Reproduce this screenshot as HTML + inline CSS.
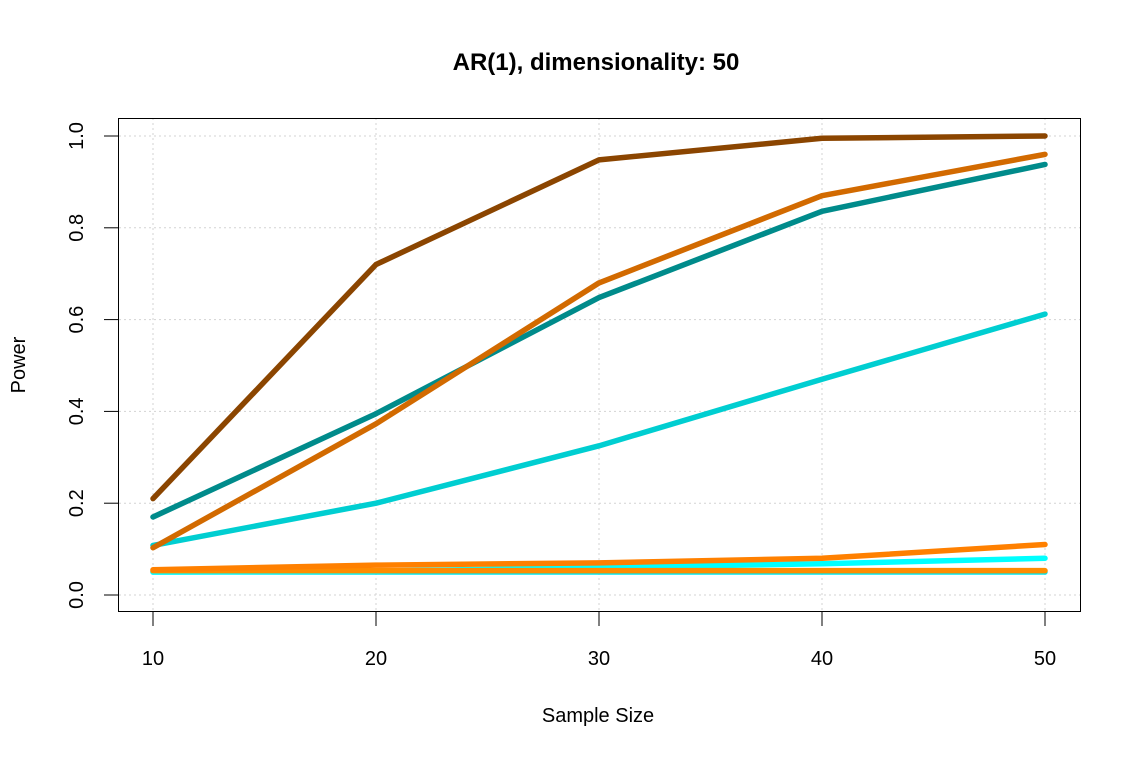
<!DOCTYPE html>
<html><head><meta charset="utf-8"><style>body{margin:0;background:#fff}svg{display:block}text{font-family:"Liberation Sans",sans-serif}</style></head>
<body>
<svg id="c" width="1141" height="759"></svg>
<script>
const categories=[10,20,30,40,50];
const yTicks=[0,0.2,0.4,0.6,0.8,1.0];
const yTickLabels=["0.0","0.2","0.4","0.6","0.8","1.0"];
const sBrown=[0.21,0.72,0.948,0.995,1.0];
const sTeal=[0.17,0.395,0.648,0.836,0.938];
const sDarkOrange=[0.103,0.373,0.68,0.87,0.96];
const sTurq=[0.108,0.20,0.325,0.47,0.612];
const sCyanFlat=[0.05,0.05,0.05,0.05,0.05];
const sCyan=[0.05,0.052,0.06,0.068,0.08];
const sOrange=[0.055,0.065,0.07,0.08,0.11];
const sOrangeFlat=[0.053,0.053,0.053,0.053,0.053];
const series=[[sCyanFlat,"#00e5ee","cyan-flat"],[sCyan,"#00ffff","cyan"],[sOrangeFlat,"#ff8c00","orange-flat"],[sOrange,"#ff8000","orange"],[sTurq,"#00ced1","turquoise"],[sTeal,"#008b8b","teal"],[sDarkOrange,"#d26a00","dark-orange"],[sBrown,"#8b4500","brown"]];
const X=v=>153+(v-10)*(1045-153)/40, Y=v=>595-v*459;
const svg=document.getElementById('c');const NS="http://www.w3.org/2000/svg";
function mk(t,a,p){const e=document.createElementNS(NS,t);for(const k in a)e.setAttribute(k,a[k]);(p||svg).appendChild(e);return e;}
categories.forEach(c=>{const l=mk('line',{x1:X(c),x2:X(c),y1:118,y2:612,stroke:'#d3d3d3','stroke-dasharray':'2,3'});


const t=mk('text',{x:X(c),y:665,'text-anchor':'middle','font-size':20});t.textContent=c;


const k=mk('line',{x1:X(c),x2:X(c),y1:612,y2:626,stroke:'#000'});

});
yTicks.forEach((v,i)=>{const l=mk('line',{x1:119,x2:1081,y1:Y(v),y2:Y(v),stroke:'#d3d3d3','stroke-dasharray':'2,3'});


const k=mk('line',{x1:104,x2:119,y1:Y(v),y2:Y(v),stroke:'#000'});


const t=mk('text',{x:0,y:0,'text-anchor':'middle','font-size':20,transform:`translate(83,${Y(v)}) rotate(-90)`});t.textContent=yTickLabels[i];

});
series.forEach(s=>{const p=mk('polyline',{points:s[0].map((v,i)=>X(categories[i])+','+Y(v)).join(' '),fill:'none',stroke:s[1],'stroke-width':5.5,'stroke-linejoin':'round','stroke-linecap':'round'});

});
const b=mk('rect',{x:118.5,y:118.5,width:962,height:493,fill:'none',stroke:'#000'});


const tt=mk('text',{x:596,y:70,'text-anchor':'middle','font-size':24,'font-weight':'bold'});tt.textContent='AR(1), dimensionality: 50';


const xt=mk('text',{x:598,y:722,'text-anchor':'middle','font-size':20});xt.textContent='Sample Size';


const yt=mk('text',{x:0,y:0,'text-anchor':'middle','font-size':20,transform:'translate(25,365) rotate(-90)'});yt.textContent='Power';


</script>
</body></html>
